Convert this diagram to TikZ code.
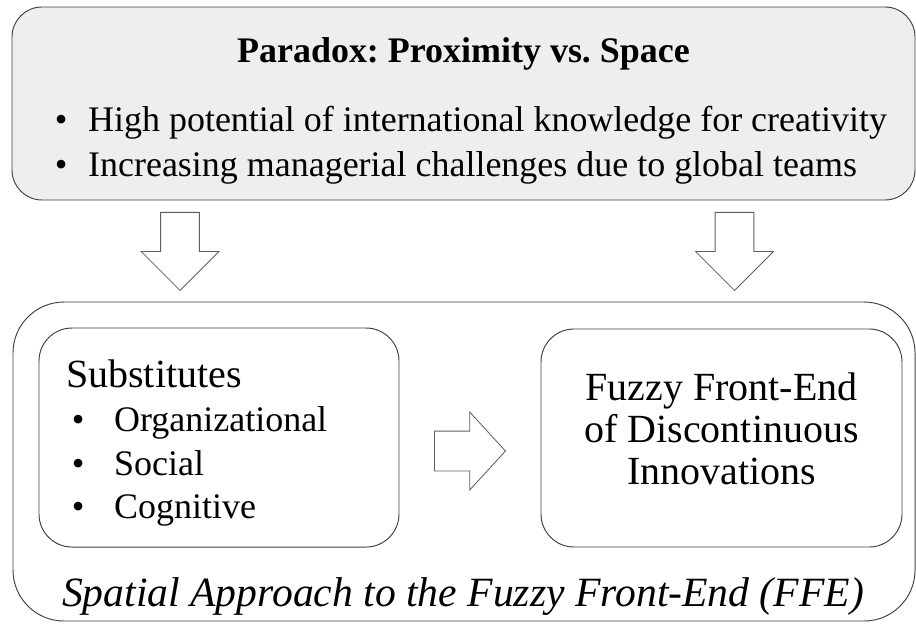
\documentclass[tikz,border=0pt]{standalone}
\usepackage{fontspec}
\setmainfont{Liberation Serif}
\usetikzlibrary{shapes.arrows}
\frenchspacing

\definecolor{panelgray}{HTML}{EEEEEE}
\definecolor{linegray}{HTML}{404040}
\definecolor{arrowgray}{HTML}{606060}

\tikzstyle{panel}=[rectangle, draw=linegray, line width=0.9pt,
                   inner sep=0, rounded corners=1cm]
\tikzstyle{txt}=[inner sep=0, font=\fontsize{34.1}{41.7}\selectfont]
\tikzstyle{bigtxt}=[inner sep=0, font=\fontsize{37.9}{41.7}\selectfont]
\tikzstyle{blockarrow}=[single arrow, draw=arrowgray, fill=white,
                        line width=0.8pt, inner sep=0, anchor=tip]

\begin{document}
\begin{tikzpicture}

  \useasboundingbox (0, 0) rectangle (30.533, 20.767);

  %%%%%%%%%%%%%%%%%%%%%%%%%%%%%%
  %%%%%%%%%%%%%%%%%%%%%%%%%%%%%%
  % paradox

  %%%%%%%%%%%%%%%%%%%%%%%%%%%%%%
  % frame
  \node (paradox) at (15.45, 17.317) [panel, fill=panelgray,
        minimum width=30.1cm, minimum height=6.433cm] {};

  % text
  \node (title) at (15.45, 18.667) [txt, anchor=base] {\textbf{Paradox: Proximity vs. Space}};

  \node (potential) at (1.823, 16.367) [txt, anchor=base west]
        {\textbullet\hspace{0.69cm}High potential of international knowledge for creativity};

  \node (challenges) at (1.823, 14.867) [txt, anchor=base west]
        {\textbullet\hspace{0.69cm}Increasing managerial challenges due to global teams};

  %%%%%%%%%%%%%%%%%%%%%%%%%%%%%%
  % arrows down
  \node (down_l) at (6.0, 11.067) [blockarrow, shape border rotate=270,
        inner xsep=0.633cm, single arrow head extend=0.65cm, minimum height=2.6cm] {};

  \node (down_r) at (24.483, 11.067) [blockarrow, shape border rotate=270,
        inner xsep=0.633cm, single arrow head extend=0.65cm, minimum height=2.6cm] {};

  %%%%%%%%%%%%%%%%%%%%%%%%%%%%%%
  %%%%%%%%%%%%%%%%%%%%%%%%%%%%%%
  % spatial approach

  %%%%%%%%%%%%%%%%%%%%%%%%%%%%%%
  % frames
  \node (spatial) at (15.467, 5.383) [panel, rounded corners=1.7cm,
        minimum width=30.067cm, minimum height=10.633cm] {};

  \node (subst) at (7.3, 6.183) [panel, rounded corners=1.1cm,
        minimum width=12.0cm, minimum height=7.3cm] {};

  \node (ffe) at (24.05, 6.167) [panel, rounded corners=1.1cm,
        minimum width=12.033cm, minimum height=7.267cm] {};

  % substitutes
  \node (subst_t) at (2.2, 7.867) [bigtxt, anchor=base west] {Substitutes};
  \node (org) at (2.39, 6.4) [txt, anchor=base west] {\textbullet\hspace{0.99cm}Organizational};
  \node (soc) at (2.39, 4.933) [txt, anchor=base west] {\textbullet\hspace{0.99cm}Social};
  \node (cog) at (2.39, 3.5) [txt, anchor=base west] {\textbullet\hspace{0.99cm}Cognitive};

  % fuzzy front-end
  \node (ffe_1) at (24.05, 7.433) [bigtxt, anchor=base] {Fuzzy Front-End};
  \node (ffe_2) at (24.05, 6.033) [bigtxt, anchor=base] {of Discontinuous};
  \node (ffe_3) at (24.05, 4.633) [bigtxt, anchor=base] {Innovations};

  % caption
  \node (approach) at (15.433, 0.567) [inner sep=0, anchor=base,
        font=\fontsize{39.5}{41.7}\selectfont]
        {\textit{Spatial Approach to the Fuzzy Front-End (FFE)}};

  %%%%%%%%%%%%%%%%%%%%%%%%%%%%%%
  % arrow right
  \node (right) at (16.867, 5.733) [blockarrow, inner ysep=0.65cm,
        single arrow head extend=0.633cm, single arrow tip angle=95,
        minimum height=2.367cm] {};

\end{tikzpicture}
\end{document}
